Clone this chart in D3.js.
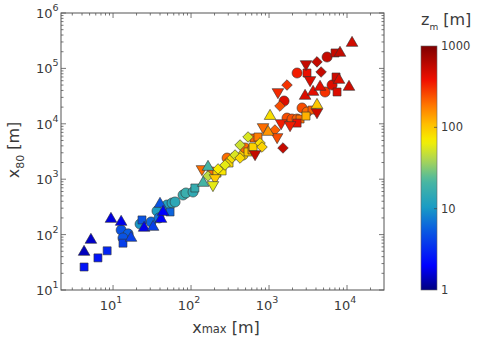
<!DOCTYPE html>
<html>
<head>
<meta charset="utf-8">
<script src="https://cdn.jsdelivr.net/npm/d3@7"></script>
<style>
body { margin: 0; background: #fff; }
text { font-family: 'DejaVu Sans', sans-serif; fill: #3a3a3a; }
.frame { fill: none; stroke: #555; stroke-width: 1; }
.tick { stroke: #555; stroke-width: 0.8; }
.mark { stroke: #333; stroke-width: 0.6; }
</style>
</head>
<body>
<div id="viz"></div>
<script>
// each point: [x_max (m), x_80 (m), z_m (m)], one list per marker
circlePts = [
	[12.7, 121, 5], [15.6, 103, 5.5], [13.4, 87, 5], [22.2, 155, 10], [30.7, 169, 6],
	[36.6, 267, 11], [38.9, 200, 7], [49.2, 342, 12], [57.1, 372, 13], [62.4, 388, 14],
	[79, 519, 16], [86, 564, 17], [106, 587, 15], [186, 1350, 200], [290, 2410, 200],
	[464, 2730, 90], [492, 3660, 200], [1560, 25800, 450], [1700, 12700, 250], [1970, 12200, 250],
	[2290, 12200, 220], [2650, 19300, 250], [3070, 16300, 200], [5230, 37500, 300], [6430, 50100, 450],
	[2290, 82600, 350], [5550, 160600, 550]
];
squarePts = [
	[4.25, 26, 2.5], [6.4, 38, 2.5], [8.4, 51, 3], [13.4, 70, 4], [23.5, 184, 5],
	[53.8, 256, 6], [112, 694, 16], [215, 1290, 90], [307, 1960, 85], [538, 3100, 100],
	[605, 3370, 150], [624, 3810, 90], [642, 5540, 220], [722, 5780, 180], [2500, 12200, 200],
	[2290, 10300, 400], [3560, 17700, 220], [7450, 37500, 450], [7230, 70000, 500], [3070, 82600, 400],
	[7020, 190000, 550], [2980, 13800, 120], [250, 1410, 75]
];
triUpPts = [
	[4.25, 48.5, 1.4], [5.2, 80, 1.5], [9.4, 191, 1.7], [12.7, 169, 1.8], [17, 87, 4],
	[25, 132, 1.8], [32.6, 137, 4], [40, 357, 5], [41.2, 191, 2], [43.8, 256, 2],
	[143, 854, 20], [165, 1660, 20], [1030, 13800, 80], [971, 7110, 150], [4120, 21800, 100],
	[2900, 31800, 450], [3670, 37500, 420], [4510, 46200, 420], [10600, 46200, 500], [7890, 61800, 450],
	[8130, 190000, 550], [11600, 287000, 500]
];
triDownPts = [
	[138, 1530, 200], [203, 1050, 100], [662, 2850, 550], [838, 8750, 200], [1300, 37500, 320],
	[1430, 10300, 350], [1860, 9510, 350], [4120, 16300, 500], [3360, 61800, 450], [2980, 120000, 550],
	[1270, 5780, 250], [191, 786, 60]
];
diamondPts = [
	[222, 1530, 70], [273, 1800, 60], [335, 2410, 80], [367, 2730, 55], [425, 2410, 85],
	[425, 4140, 50], [538, 5780, 55], [767, 4500, 80], [813, 3810, 90], [1190, 7730, 220],
	[1510, 3660, 550], [1700, 50100, 300], [1380, 20900, 250], [4650, 86100, 550], [4120, 131000, 550],
	[165, 1140, 45]
];

xTicks = [10, 100, 1000, 10000];
yTicks = [10, 100, 1000, 10000, 100000, 1000000];
zTicks = [1, 10, 100, 1000];

// dimensions
width = 485;
height = 343;
plot = {left: 61, right: 384, top: 13, bottom: 290};
bar = {left: 421, right: 437, top: 46, bottom: 290};

xScale = d3.scaleLog().domain([2.15, 29800]).range([plot.left, plot.right]);
yScale = d3.scaleLog().domain([10, 1e6]).range([plot.bottom, plot.top]);
zScale = d3.scaleLog().domain([1, 1000]).range([bar.bottom, bar.top]);

// jet-like colormap
jet = d3.scaleLinear()
	.domain([0, 0.1, 0.25, 0.34, 0.45, 0.53, 0.61, 0.68, 0.76, 0.86, 1])
	.range(['#00007f', '#0000ff', '#0a5ee0', '#1a9cc4', '#4cb8a0', '#a8d458',
		'#f6f000', '#ffbe00', '#ff7400', '#f01000', '#7f0000'])
	.clamp(true);
color = function(z) { return jet(Math.log10(z) / 3); };

svg = d3.select('#viz').append('svg')
	.attr('width', width)
	.attr('height', height);

// minor + major ticks, all pointing inwards
function decadeTicks(scale) {
	var dom = scale.domain(), out = [];
	for (var e = Math.floor(Math.log10(dom[0])); e <= Math.ceil(Math.log10(dom[1])); e++) {
		for (var m = 1; m < 10; m++) {
			var v = m * Math.pow(10, e);
			if (v >= dom[0] * 0.999 && v <= dom[1] * 1.001) out.push({v: v, major: m == 1});
		}
	}
	return out;
}

axes = svg.append('g');

decadeTicks(xScale).forEach(function(t) {
	var x = xScale(t.v), len = t.major ? 5 : 2.5;
	axes.append('line').attr('class', 'tick')
		.attr('x1', x).attr('x2', x).attr('y1', plot.bottom).attr('y2', plot.bottom - len);
	axes.append('line').attr('class', 'tick')
		.attr('x1', x).attr('x2', x).attr('y1', plot.top).attr('y2', plot.top + len);
});

decadeTicks(yScale).forEach(function(t) {
	var y = yScale(t.v), len = t.major ? 5 : 2.5;
	axes.append('line').attr('class', 'tick')
		.attr('x1', plot.left).attr('x2', plot.left + len).attr('y1', y).attr('y2', y);
	axes.append('line').attr('class', 'tick')
		.attr('x1', plot.right).attr('x2', plot.right - len).attr('y1', y).attr('y2', y);
});

axes.append('rect').attr('class', 'frame')
	.attr('x', plot.left).attr('y', plot.top)
	.attr('width', plot.right - plot.left).attr('height', plot.bottom - plot.top);

// tick labels as 10^n
function powLabel(sel) {
	sel.text('10')
		.append('tspan')
		.attr('dy', -7)
		.attr('font-size', 9.5)
		.text(d => Math.round(Math.log10(d)));
}

svg.selectAll('text.xlab')
	.data(xTicks)
	.enter()
	.append('text')
	.attr('class', 'xlab')
	.attr('x', d => xScale(d) - 2)
	.attr('y', plot.bottom + 20)
	.attr('text-anchor', 'middle')
	.attr('font-size', 13)
	.call(powLabel);

svg.selectAll('text.ylab')
	.data(yTicks)
	.enter()
	.append('text')
	.attr('class', 'ylab')
	.attr('x', plot.left - 25)
	.attr('y', d => yScale(d) + 5)
	.attr('text-anchor', 'start')
	.attr('font-size', 13)
	.call(powLabel);

// axis titles
xt = svg.append('text')
	.attr('x', 226)
	.attr('y', 333)
	.attr('text-anchor', 'middle')
	.attr('font-size', 16);
xt.append('tspan').text('x');
xt.append('tspan').attr('font-size', 11.5).text('max');
xt.append('tspan').text(' [m]');

yt = svg.append('text')
	.attr('transform', 'translate(19,150) rotate(-90)')
	.attr('text-anchor', 'middle')
	.attr('font-size', 16);
yt.append('tspan').text('x');
yt.append('tspan').attr('font-size', 11).attr('dy', 5).text('80');
yt.append('tspan').attr('dy', -5).text(' [m]');

// markers
shapes = [
	{pts: circlePts, type: d3.symbolCircle, size: 80, rot: 0},
	{pts: squarePts, type: d3.symbolSquare, size: 64, rot: 0},
	{pts: diamondPts, type: d3.symbolSquare, size: 56, rot: 45},
	{pts: triDownPts, type: d3.symbolTriangle, size: 58, rot: 180},
	{pts: triUpPts, type: d3.symbolTriangle, size: 58, rot: 0}
];

marks = svg.append('g');
shapes.forEach(function(s) {
	marks.selectAll(null)
		.data(s.pts)
		.enter()
		.append('path')
		.attr('class', 'mark')
		.attr('d', d3.symbol().type(s.type).size(s.size))
		.attr('transform', d => 'translate(' + xScale(d[0]) + ',' + yScale(d[1]) + ') rotate(' + s.rot + ')')
		.attr('fill', d => color(d[2]));
});

// colorbar
grad = svg.append('defs').append('linearGradient')
	.attr('id', 'jetGrad')
	.attr('x1', 0).attr('x2', 0).attr('y1', 1).attr('y2', 0);
grad.selectAll('stop')
	.data(d3.range(0, 1.0001, 0.02))
	.enter()
	.append('stop')
	.attr('offset', d => d)
	.attr('stop-color', d => jet(d));

svg.append('rect')
	.attr('x', bar.left).attr('y', bar.top)
	.attr('width', bar.right - bar.left).attr('height', bar.bottom - bar.top)
	.attr('fill', 'url(#jetGrad)')
	.attr('stroke', '#666')
	.attr('stroke-width', 0.6);

svg.selectAll('line.ztick')
	.data(zTicks.slice(1, -1))
	.enter()
	.append('line')
	.attr('class', 'ztick')
	.attr('x1', bar.right).attr('x2', bar.right - 3)
	.attr('y1', d => zScale(d)).attr('y2', d => zScale(d))
	.attr('stroke', '#444').attr('stroke-width', 0.7);

svg.selectAll('text.zlab')
	.data(zTicks)
	.enter()
	.append('text')
	.attr('class', 'zlab')
	.attr('x', bar.right + 4)
	.attr('y', d => zScale(d) + 4)
	.attr('font-size', 11.5)
	.text(d => d);

zt = svg.append('text')
	.attr('x', 421)
	.attr('y', 25)
	.attr('font-size', 16);
zt.append('tspan').text('z');
zt.append('tspan').attr('font-size', 9).attr('dy', 5).text('m');
zt.append('tspan').attr('dy', -5).text(' [m]');
</script>
</body>
</html>
